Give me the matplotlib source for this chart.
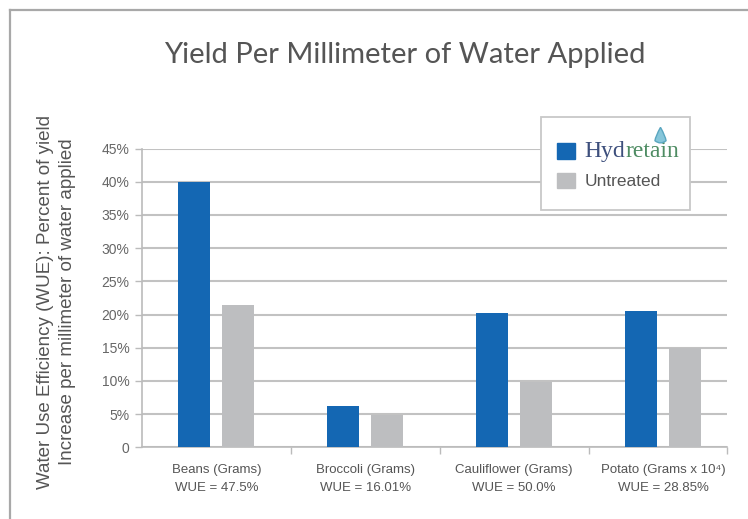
import matplotlib
matplotlib.use("Agg")
import matplotlib.pyplot as plt
import numpy as np
from matplotlib.patches import Rectangle
from matplotlib.path import Path

categories = ["Beans (Grams)\nWUE = 47.5%", "Broccoli (Grams)\nWUE = 16.01%",
              "Cauliflower (Grams)\nWUE = 50.0%", "Potato (Grams x 10\u2074)\nWUE = 28.85%"]
hydretain = [40.0, 6.2, 20.2, 20.5]
untreated = [21.4, 4.9, 9.9, 15.0]
yticks = [0, 5, 10, 15, 20, 25, 30, 35, 40, 45]
ytick_labels = ["0", "5%", "10%", "15%", "20%", "25%", "30%", "35%", "40%", "45%"]

BLUE = "#1467b3"
GRAY = "#bdbec0"
SANS = ["Liberation Sans", "DejaVu Sans"]
SERIF = ["Liberation Serif", "DejaVu Serif"]

W, H = 748, 519
fig = plt.figure(figsize=(W / 100, H / 100), dpi=100)
fig.patch.set_facecolor("white")

# outer frame
fig.add_artist(plt.Line2D([10 / W, 10 / W], [0, 1 - 10 / H], transform=fig.transFigure,
                          color="#a8a8a8", lw=1.6))
fig.add_artist(plt.Line2D([10 / W, 1], [1 - 10 / H, 1 - 10 / H], transform=fig.transFigure,
                          color="#a8a8a8", lw=1.6))

left, right = 142 / W, 727 / W
bottom, top = 1 - 447.3 / H, 1 - 148.5 / H
ax = fig.add_axes([left, bottom, right - left, top - bottom])

x = np.arange(len(categories))
bw = 0.215
off = 0.148
ax.bar(x - off, hydretain, bw, color=BLUE, zorder=3, label="Hydretain")
ax.bar(x + off, untreated, bw, color=GRAY, zorder=3, label="Untreated")

xmax = 3.43
ax.set_xlim(-0.5, xmax)
ax.set_ylim(0, 45)
ax.set_yticks(yticks)
ax.set_yticklabels(ytick_labels, fontsize=10, color="#666666", family=SANS)
ax.yaxis.grid(True, color="#c2c2c2", lw=1.5, zorder=0)
ax.set_axisbelow(True)

ax.set_xticks([0.5, 1.5, 2.5, xmax])
ax.set_xticklabels([])
ax.set_xticks(x, minor=True)
ax.set_xticklabels(categories, minor=True, fontsize=9.5, color="#555555", family=SANS,
                   linespacing=1.7)
ax.tick_params(axis="x", which="minor", length=0, pad=12)
ax.tick_params(axis="x", which="major", length=5, color="#bbbbbb", width=1)
ax.tick_params(axis="y", length=5, color="#bbbbbb", width=1, pad=4)

for s in ["top", "right"]:
    ax.spines[s].set_visible(False)
for s in ["left", "bottom"]:
    ax.spines[s].set_color("#bbbbbb")
    ax.spines[s].set_linewidth(1.2)

fig.text(405 / W, 1 - 55 / H, "Yield Per Millimeter of Water Applied", ha="center", va="center",
         fontsize=21, color="#555555", family=["Lato", "DejaVu Sans"])

fig.text(56.5 / W, 1 - 302 / H,
         "Water Use Efficiency (WUE): Percent of yield\nIncrease per millimeter of water applied",
         rotation=90, ha="center", va="center", fontsize=13.5, color="#555555", family=SANS,
         linespacing=1.32)

# legend frame (drawn separately so the two-colour logo fits inside)
ax.add_patch(Rectangle((541 / W, 1 - 210 / H), 149 / W, 93 / H, transform=fig.transFigure,
                       facecolor="white", edgecolor="#c8c8c8", lw=1.3, zorder=4.5,
                       clip_on=False))
h1 = Rectangle((0, 0), 1, 1, color=BLUE)
h2 = Rectangle((0, 0), 1, 1, color=GRAY)
fs = 12.5
leg = ax.legend([h1, h2], ["Hyd", "Untreated"], loc="upper left",
                bbox_to_anchor=(536 / W, 1 - 120 / H), bbox_transform=fig.transFigure,
                borderaxespad=0, frameon=False,
                handlelength=1.03, handleheight=1.03, handletextpad=0.57,
                borderpad=1.2, labelspacing=0.62,
                prop={"family": SANS, "size": fs})
leg.set_zorder(5)
t1, t2 = leg.get_texts()
t2.set_color("#555555")
t1.set_fontfamily(SERIF)
t1.set_fontsize(17)
t1.set_color("#3d4f7c")
ax.annotate("retain", xy=(1, 0), xycoords=t1, ha="left", va="bottom",
            fontsize=17, color="#4e8c63", family=SERIF, zorder=6, annotation_clip=False)
# small droplet above the logo
drop = Path([(0, 1.0), (0.45, 0.2), (0.5, -0.2), (0, -0.6), (-0.5, -0.2), (-0.45, 0.2), (0, 1.0)],
            [Path.MOVETO, Path.CURVE3, Path.CURVE3, Path.CURVE3, Path.CURVE3, Path.CURVE3, Path.CURVE3])
fig.lines.append(plt.Line2D([660 / W], [1 - 138 / H], transform=fig.transFigure, marker=drop,
                            markersize=16, color="#86c6da", markeredgecolor="#5aa6c0",
                            linestyle="none", zorder=7))

fig.savefig("out.png", dpi=100)
